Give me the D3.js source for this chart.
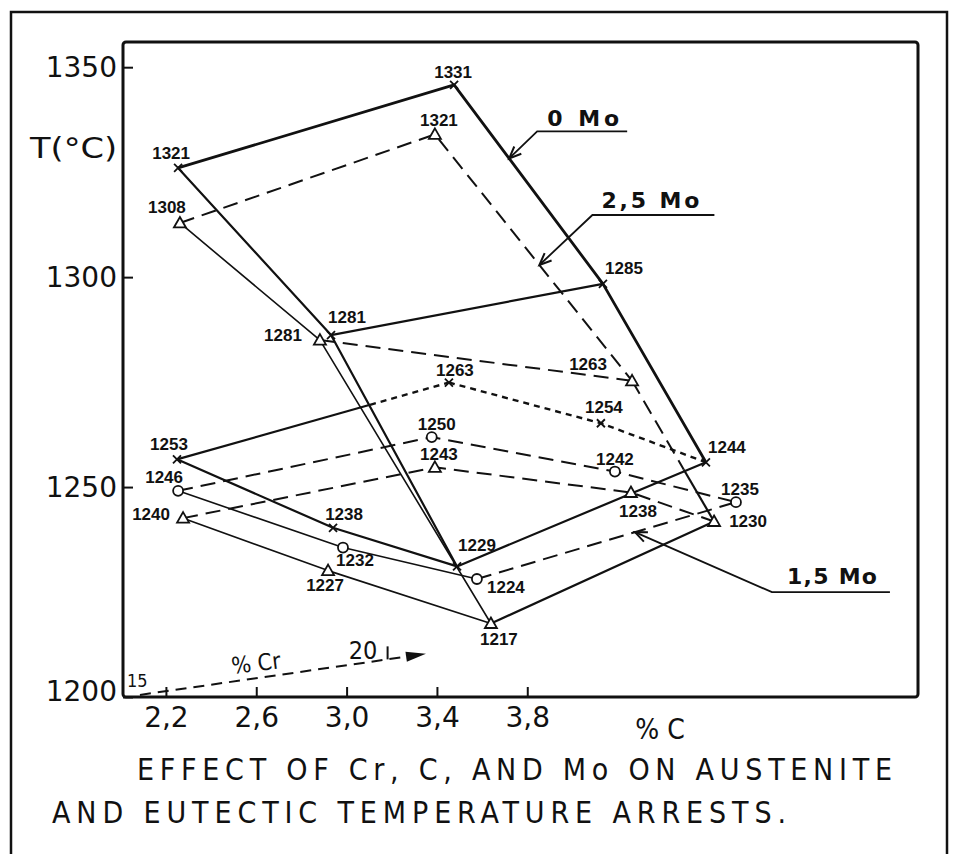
<!DOCTYPE html>
<html>
<head>
<meta charset="utf-8">
<script src="https://cdn.jsdelivr.net/npm/d3@7"></script>
<style>
body { margin: 0; background: #fff; }
svg { display: block; }
</style>
</head>
<body>
<div id="chart"></div>
<script>
// values: % C, temperature where the point sits, printed label
// austenite arrests
var mo0UpperC = [2.254, 3.476, 4.135, 2.931];
var mo0UpperT = [1326.0, 1345.8, 1298.4, 1286.2];
var mo0UpperLabels = ["1321", "1331", "1285", "1281"];

var mo25UpperC = [2.262, 3.391, 4.264, 2.882];
var mo25UpperT = [1312.9, 1334.0, 1275.3, 1285.0];
var mo25UpperLabels = ["1308", "1321", "1263", "1281"];

// eutectic arrests
var mo0LowerC = [2.249, 2.940, 3.489, 3.453, 4.126, 4.591];
var mo0LowerT = [1256.6, 1240.3, 1231.1, 1274.9, 1265.2, 1255.9];
var mo0LowerLabels = ["1253", "1238", "1229", "1263", "1254", "1244"];

var mo15LowerC = [2.254, 2.984, 3.577, 3.377, 4.188, 4.724];
var mo15LowerT = [1249.1, 1235.6, 1228.1, 1261.9, 1253.7, 1246.4];
var mo15LowerLabels = ["1246", "1232", "1224", "1250", "1242", "1235"];

var mo25LowerC = [2.276, 2.918, 3.639, 3.391, 4.259, 4.627];
var mo25LowerT = [1242.6, 1230.1, 1217.5, 1254.7, 1248.7, 1241.8];
var mo25LowerLabels = ["1240", "1227", "1217", "1243", "1238", "1230"];

var xTicks = [2.2, 2.6, 3.0, 3.4, 3.8];
var yTicks = [1200, 1250, 1300, 1350];

// % Cr arrow along the bottom (15 -> 20)
var crArrowC = [2.085, 3.29];
var crArrowT = [1200.5, 1209.8];
var crLabels = ["15", "20"];

var series = [
	{key: "u0", c: mo0UpperC, t: mo0UpperT, labels: mo0UpperLabels, mark: "x"},
	{key: "u25", c: mo25UpperC, t: mo25UpperT, labels: mo25UpperLabels, mark: "tri"},
	{key: "l0", c: mo0LowerC, t: mo0LowerT, labels: mo0LowerLabels, mark: "x"},
	{key: "l15", c: mo15LowerC, t: mo15LowerT, labels: mo15LowerLabels, mark: "circ"},
	{key: "l25", c: mo25LowerC, t: mo25LowerT, labels: mo25LowerLabels, mark: "tri"}
];

// which points are joined and how
var links = [
	{path: ["u0.0", "u0.1", "u0.2", "l0.5"], style: "heavy"},
	{path: ["u0.0", "u0.3", "l0.2"], style: "solid"},
	{path: ["u0.3", "u0.2"], style: "solid"},
	{path: ["u25.0", "u25.1", "u25.2"], style: "long"},
	{path: ["u25.2", "l25.5"], style: "long", split: 0.63, after: "solid"},
	{path: ["u25.0", "u25.3", "l25.2"], style: "thin"},
	{path: ["u25.3", "u25.2"], style: "long"},
	{path: ["l0.0", "l0.1", "l0.2", "l0.5"], style: "solid"},
	{path: ["l0.0", "l0.3"], style: "solid", split: 0.71, after: "short"},
	{path: ["l0.3", "l0.4", "l0.5"], style: "short"},
	{path: ["l15.0", "l15.1", "l15.2"], style: "thin"},
	{path: ["l15.0", "l15.3", "l15.4", "l15.5"], style: "long"},
	{path: ["l15.2", "l15.5"], style: "long"},
	{path: ["l25.0", "l25.1", "l25.2"], style: "thin"},
	{path: ["l25.2", "l25.5"], style: "solid"},
	{path: ["l25.0", "l25.3", "l25.4", "l25.5"], style: "long"}
];

var styles = {
	heavy: {w: 2.8, dash: null},
	solid: {w: 2.2, dash: null},
	thin: {w: 1.6, dash: null},
	long: {w: 2.0, dash: "15,8"},
	short: {w: 2.4, dash: "6,5"}
};

// label placement (pixels from the point)
var labelOffsets = {
	"u0.0": [-7, -15], "u0.1": [-1, -13], "u0.2": [21, -16], "u0.3": [16, -18],
	"u25.0": [-13, -16], "u25.1": [4, -14], "u25.2": [-44, -17], "u25.3": [-37, -5],
	"l0.0": [-8, -15], "l0.1": [11, -14], "l0.2": [20, -22], "l0.3": [6, -13], "l0.4": [3, -16], "l0.5": [21, -15],
	"l15.0": [-14, -14], "l15.1": [12, 12], "l15.2": [29, 8], "l15.3": [5, -13], "l15.4": [0, -13], "l15.5": [4, -13],
	"l25.0": [-32, -4], "l25.1": [-3, 14], "l25.2": [8, 15], "l25.3": [4, -13], "l25.4": [7, 18], "l25.5": [34, -1]
};

var svgWidth = 955;
var svgHeight = 854;
var margin = {top: 42, left: 123};
var width = 795;
var height = 655;
var ink = "#111";
var capFont = "DejaVu Sans Condensed, DejaVu Sans, sans-serif";

var svg = d3.select("#chart")
	.append("svg")
	.attr("width", svgWidth)
	.attr("height", svgHeight);

svg.append("rect").attr("width", svgWidth).attr("height", svgHeight).attr("fill", "#fff");

// outer frame, bottom runs off the page
svg.append("path")
	.attr("d", "M11,880V12H947V880")
	.attr("fill", "none")
	.attr("stroke", ink)
	.attr("stroke-width", 2.5);

var chartGroup = svg.append("g")
	.attr("transform", `translate(${margin.left}, ${margin.top})`);

var xScale = d3.scaleLinear().domain([2.01, 5.53]).range([0, width]);
var yScale = d3.scaleLinear().domain([1200, 1356]).range([height, 0]);

var fmt = d => d3.format(".1f")(d).replace(".", ",");

var xAxis = chartGroup.append("g")
	.attr("transform", `translate(0, ${height})`)
	.call(d3.axisBottom(xScale).tickValues(xTicks).tickSize(-10).tickPadding(10).tickFormat(fmt));
var yAxis = chartGroup.append("g")
	.call(d3.axisLeft(yScale).tickValues(yTicks).tickSize(-10).tickPadding(6).tickFormat(d3.format("d")));

[xAxis, yAxis].forEach(function(ax) {
	ax.select(".domain").remove();
	ax.selectAll("line").attr("stroke", ink).attr("stroke-width", 2);
	ax.selectAll("text")
		.attr("fill", ink)
		.style("font-family", "DejaVu Sans, sans-serif")
		.style("font-size", "28px");
});
// the 1200 label sits a little above the bottom line in the drawing
yAxis.selectAll(".tick").filter(d => d === 1200).select("text").attr("dy", "0.12em");

// plot frame
chartGroup.append("rect")
	.attr("width", width)
	.attr("height", height)
	.attr("rx", 3)
	.attr("fill", "none")
	.attr("stroke", ink)
	.attr("stroke-width", 3);

// point lookup
var byKey = {};
series.forEach(function(s) { byKey[s.key] = s; });
function pt(ref) {
	var p = ref.split(".");
	var s = byKey[p[0]], i = +p[1];
	return [xScale(s.c[i]), yScale(s.t[i])];
}
function lerp(a, b, f) {
	return [a[0] + (b[0] - a[0]) * f, a[1] + (b[1] - a[1]) * f];
}

var line = d3.line();
function drawPath(pts, styleName) {
	var st = styles[styleName];
	chartGroup.append("path")
		.attr("d", line(pts))
		.attr("fill", "none")
		.attr("stroke", ink)
		.attr("stroke-width", st.w)
		.attr("stroke-linejoin", "round")
		.attr("stroke-dasharray", st.dash);
}

links.forEach(function(l) {
	var pts = l.path.map(pt);
	if (l.split) {
		var mid = lerp(pts[0], pts[1], l.split);
		drawPath([pts[0], mid], l.style);
		drawPath([mid, pts[1]], l.after);
	} else {
		drawPath(pts, l.style);
	}
});

// markers + labels
series.forEach(function(s) {
	s.c.forEach(function(c, i) {
		var ref = s.key + "." + i;
		var p = pt(ref);
		var g = chartGroup.append("g").attr("transform", `translate(${p[0]}, ${p[1]})`);
		if (s.mark === "x") {
			g.append("path").attr("d", "M-4,-4L4,4M-4,4L4,-4")
				.attr("stroke", ink).attr("stroke-width", 1.8);
		} else if (s.mark === "tri") {
			g.append("path").attr("d", "M0,-6L6,4.5L-6,4.5Z")
				.attr("fill", "#fff").attr("stroke", ink).attr("stroke-width", 1.8);
		} else {
			g.append("circle").attr("r", 5)
				.attr("fill", "#fff").attr("stroke", ink).attr("stroke-width", 1.8);
		}
		var off = labelOffsets[ref];
		chartGroup.append("text")
			.attr("x", p[0] + off[0])
			.attr("y", p[1] + off[1])
			.attr("dy", "0.36em")
			.attr("text-anchor", "middle")
			.attr("fill", ink)
			.style("font-family", "Liberation Sans, Arial, sans-serif")
			.style("font-weight", "bold")
			.style("font-size", "17px")
			.text(s.labels[i]);
	});
});

// Mo leader labels
var moNotes = [
	{text: "0 Mo", a: "u0.1", b: "u0.2", f: 0.37, elbow: [28, -27], under: 90, tx: [10, -5], len: 72},
	{text: "2,5 Mo", a: "u25.1", b: "u25.2", f: 0.53, elbow: [53, -50], under: 122, tx: [9, -7], len: 98},
	{text: "1,5 Mo", a: "l15.2", b: "l15.5", f: 0.61, elbow: [137, 60], under: 118, tx: [15, -8], len: 90}
];

moNotes.forEach(function(n) {
	var tip = lerp(pt(n.a), pt(n.b), n.f);
	var el = [tip[0] + n.elbow[0], tip[1] + n.elbow[1]];
	chartGroup.append("path")
		.attr("d", line([tip, el, [el[0] + n.under, el[1]]]))
		.attr("fill", "none").attr("stroke", ink).attr("stroke-width", 1.8);
	var ang = Math.atan2(el[1] - tip[1], el[0] - tip[0]);
	var arm = 13, spread = 0.4;
	var a1 = [tip[0] + arm * Math.cos(ang + spread), tip[1] + arm * Math.sin(ang + spread)];
	var a2 = [tip[0] + arm * Math.cos(ang - spread), tip[1] + arm * Math.sin(ang - spread)];
	chartGroup.append("path")
		.attr("d", line([a1, tip, a2]))
		.attr("fill", "none").attr("stroke", ink).attr("stroke-width", 2);
	chartGroup.append("text")
		.attr("x", el[0] + n.tx[0])
		.attr("y", el[1] + n.tx[1])
		.attr("textLength", n.len)
		.attr("lengthAdjust", "spacing")
		.attr("fill", ink)
		.style("font-family", "DejaVu Sans, sans-serif")
		.style("font-weight", "bold")
		.style("font-size", "22px")
		.text(n.text);
});

// % Cr arrow
var cr0 = [xScale(crArrowC[0]), yScale(crArrowT[0])];
var cr1 = [xScale(crArrowC[1]), yScale(crArrowT[1])];
var crAng = Math.atan2(cr1[1] - cr0[1], cr1[0] - cr0[0]);
chartGroup.append("path")
	.attr("d", line([cr0, cr1]))
	.attr("stroke", ink).attr("stroke-width", 2).attr("stroke-dasharray", "11,7");
var ux = Math.cos(crAng), uy = Math.sin(crAng);
var head = [cr1[0] + 14 * ux, cr1[1] + 14 * uy];
chartGroup.append("path")
	.attr("d", line([head, [cr1[0] - 6 * ux - 5 * uy, cr1[1] - 6 * uy + 5 * ux], [cr1[0] - 6 * ux + 5 * uy, cr1[1] - 6 * uy - 5 * ux]]) + "Z")
	.attr("fill", ink);
var tickAt = lerp(cr0, cr1, 0.91);
chartGroup.append("path")
	.attr("d", line([tickAt, [tickAt[0], tickAt[1] - 13]]))
	.attr("stroke", ink).attr("stroke-width", 2);
chartGroup.append("text")
	.attr("x", cr0[0] - 13).attr("y", cr0[1] - 8)
	.attr("fill", ink)
	.style("font-family", capFont).style("font-size", "18px")
	.text(crLabels[0]);
var t20 = lerp(cr0, cr1, 0.82);
chartGroup.append("text")
	.attr("x", t20[0]).attr("y", t20[1] - 4)
	.attr("text-anchor", "middle")
	.attr("fill", ink)
	.style("font-family", capFont).style("font-size", "25px")
	.text(crLabels[1]);
var tCr = lerp(cr0, cr1, 0.43);
chartGroup.append("text")
	.attr("transform", `translate(${tCr[0]}, ${tCr[1] - 7}) rotate(-7)`)
	.attr("text-anchor", "middle")
	.attr("fill", ink)
	.style("font-family", capFont).style("font-size", "23px")
	.text("% Cr");

// axis titles
svg.append("text")
	.attr("x", 30).attr("y", 158)
	.attr("textLength", 87).attr("lengthAdjust", "spacingAndGlyphs")
	.attr("fill", ink)
	.style("font-family", "DejaVu Sans, sans-serif").style("font-size", "28px")
	.text("T(°C)");

svg.append("text")
	.attr("x", 660).attr("y", 739)
	.attr("text-anchor", "middle")
	.attr("fill", ink)
	.style("font-family", capFont).style("font-size", "28px")
	.text("% C");

// caption
svg.append("text")
	.attr("x", 137).attr("y", 780)
	.attr("textLength", 755).attr("lengthAdjust", "spacing")
	.attr("fill", ink)
	.style("font-family", capFont).style("font-size", "30px")
	.text("EFFECT OF Cr, C, AND Mo ON AUSTENITE");
svg.append("text")
	.attr("x", 52).attr("y", 823)
	.attr("textLength", 734).attr("lengthAdjust", "spacing")
	.attr("fill", ink)
	.style("font-family", capFont).style("font-size", "30px")
	.text("AND EUTECTIC TEMPERATURE ARRESTS.");
</script>
</body>
</html>
